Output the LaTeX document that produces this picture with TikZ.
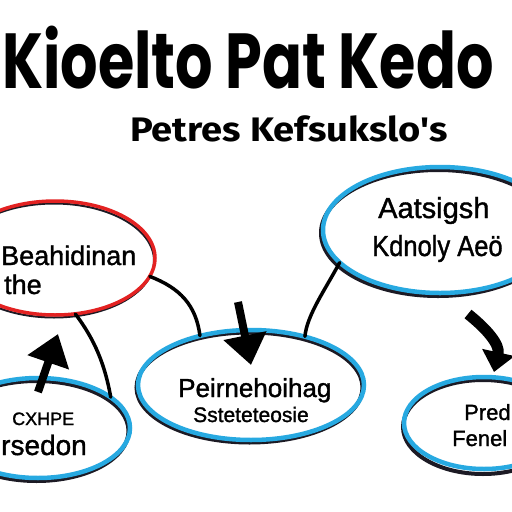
\documentclass[tikz,border=0pt]{standalone}
\usepackage{fontspec}
\setmainfont{Liberation Sans}
\newfontfamily\titlefont{Poppins}
\newfontfamily\subfont{Fira Sans}
\newfontfamily\lblfont{Liberation Sans}[FakeBold=1.3]
\usetikzlibrary{shapes.geometric,arrows.meta}
\definecolor{skyb}{HTML}{27A9E1}
\definecolor{redo}{HTML}{E32222}
\definecolor{shad}{HTML}{1C1A24}
\begin{document}
\begin{tikzpicture}[x=1pt,y=-1pt,
  oval/.style={ellipse, inner sep=0pt, draw=none},
  blueline/.style={draw=skyb, line width=4.5pt},
  redline/.style={draw=redo, line width=3.5pt},
  shadline/.style={draw=shad, line width=4pt},
  conn/.style={draw=black, line width=3.5pt, line cap=round},
  fatarrow/.style={draw=black, fill=black, line width=8pt, -{Triangle[width=42pt,length=30pt]}},
  lbl/.style={anchor=base west, inner sep=0pt, text=black}]
\useasboundingbox (0,0) rectangle (512,512);
\clip (0,0) rectangle (512,512);
\fill[white] (0,0) rectangle (512,512);

% title
\node[lbl, xscale=0.755, transform shape, font=\titlefont\bfseries\fontsize{78}{78}\selectfont] (title) at (2,88) {Kioelto Pat Kedo};
\node[lbl, xscale=1.12, transform shape, font=\subfont\bfseries\fontsize{34}{34}\selectfont] (sub) at (130,141) {Petres Kefsukslo's};

% ellipses (shape nodes)
\node[oval, minimum width=200pt, minimum height=114pt] (red) at (55,258) {};
\node[oval, minimum width=234pt, minimum height=126pt] (tr) at (440,230) {};
\node[oval, minimum width=226pt, minimum height=110pt] (ctr) at (251,385) {};
\node[oval, minimum width=184pt, minimum height=100pt] (bl) at (38,428) {};
\node[oval, minimum width=160pt, minimum height=94pt] (br) at (484,424) {};

% shadows
\draw[shadline] (tr.center) ++(-2,3) ellipse [x radius=117, y radius=63];
\draw[shadline] (ctr.center) ++(-1.5,2.5) ellipse [x radius=113, y radius=55];
\draw[shadline] (bl.center) ++(-1.5,3) ellipse [x radius=92, y radius=50];
\draw[shadline] (br.center) ++(-1,3) ellipse [x radius=80, y radius=47];
\draw[draw=shad, line width=2pt] (red.center) ++(-1,2.5) ellipse [x radius=100, y radius=57];

% outlines
\draw[redline] (red.center) ellipse [x radius=100, y radius=57];
\draw[blueline] (tr.center) ellipse [x radius=117, y radius=63];
\draw[blueline] (ctr.center) ellipse [x radius=113, y radius=55];
\draw[blueline] (bl.center) ellipse [x radius=92, y radius=50];
\draw[blueline] (br.center) ++(0,-1) ellipse [x radius=80, y radius=46];

% labels
\node[lbl, font=\lblfont\fontsize{27}{27}\selectfont] (r1) at (1,265) {Beahidinan};
\node[lbl, font=\lblfont\fontsize{27}{27}\selectfont] (r2) at (4,294) {the};
\node[lbl, font=\lblfont\fontsize{29}{29}\selectfont] (t1) at (378,218) {Aatsigsh};
\node[lbl, xscale=0.88, transform shape, font=\lblfont\fontsize{29}{29}\selectfont] (t2) at (372,256) {Kdnoly Aeö};
\node[lbl, font=\lblfont\fontsize{26}{26}\selectfont] (c1) at (178,397) {Peirnehoihag};
\node[lbl, font=\lblfont\fontsize{21}{21}\selectfont] (c2) at (193,422) {Ssteteteosie};
\node[lbl, font=\lblfont\fontsize{18}{18}\selectfont] (b1) at (12,425) {CXHPE};
\node[lbl, font=\lblfont\fontsize{28}{28}\selectfont] (b2) at (1,455) {rsedon};
\node[lbl, font=\lblfont\fontsize{22}{22}\selectfont] (p1) at (464,420) {Pred};
\node[lbl, font=\lblfont\fontsize{22}{22}\selectfont] (p2) at (452,446) {Fenel};

% connectors
\draw[conn] (red.-11) .. controls (180,288) and (196,305) .. (ctr.136);
\draw[conn] (red.-70) .. controls (95,340) and (105,365) .. (bl.23);
\draw[conn] (ctr.42) .. controls (307,315) and (325,290) .. (tr.198);

% free arrows
\coordinate (la0) at (38,392);
\coordinate (la1) at (58,334);
\draw[fatarrow] (la0) -- (la1);
\coordinate (ca0) at (238,302);
\coordinate (ca1) at (251,365);
\draw[fatarrow] (ca0) -- (ca1);
\coordinate (ra0) at (468,314);
\coordinate (ra1) at (494,372);
\draw[draw=black, line width=11pt, -{Triangle[width=32pt,length=20pt]}] (ra0) .. controls (488,330) and (500,345) .. (ra1);
\end{tikzpicture}
\end{document}
